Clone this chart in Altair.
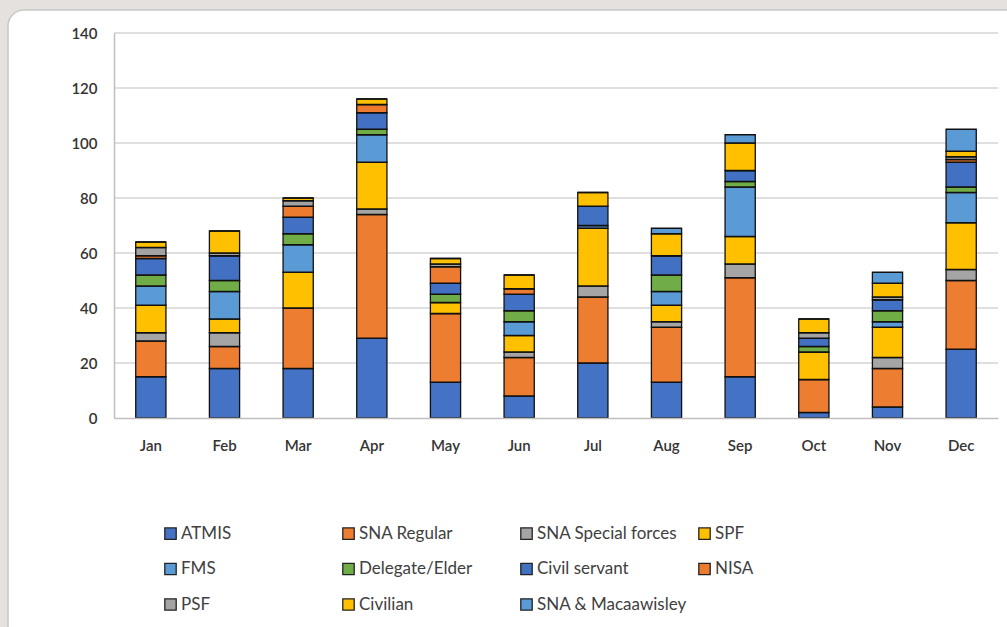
import altair as alt
import pandas as pd

months = ["Jan", "Feb", "Mar", "Apr", "May", "Jun", "Jul", "Aug", "Sep", "Oct", "Nov", "Dec"]
series = ["ATMIS", "SNA Regular", "SNA Special forces", "SPF", "FMS", "Delegate/Elder",
          "Civil servant", "NISA", "PSF", "Civilian", "SNA & Macaawisley"]
colors = ["#4472C4", "#ED7D31", "#A5A5A5", "#FFC000", "#5B9BD5", "#70AD47",
          "#4270C2", "#EC7B30", "#A3A3A3", "#FFC000", "#5B9BD5"]

# values per month, in series order (bottom to top)
jan = [15, 13, 3, 10, 7, 4, 6, 1, 3, 2, 0]
feb = [18, 8, 5, 5, 10, 4, 9, 0, 1, 8, 0]
mar = [18, 22, 0, 13, 10, 4, 6, 4, 2, 1, 0]
apr = [29, 45, 2, 17, 10, 2, 6, 3, 0, 2, 0]
may = [13, 25, 0, 4, 0, 3, 4, 6, 1, 2, 0]
jun = [8, 14, 2, 6, 5, 4, 6, 2, 0, 5, 0]
jul = [20, 24, 4, 21, 1, 0, 7, 0, 0, 5, 0]
aug = [13, 20, 2, 6, 5, 6, 7, 0, 0, 8, 2]
sep = [15, 36, 5, 10, 18, 2, 4, 0, 0, 10, 3]
oct_ = [2, 12, 0, 10, 0, 2, 3, 0, 2, 5, 0]
nov = [4, 14, 4, 11, 2, 4, 4, 0, 1, 5, 4]
dec = [25, 25, 4, 17, 11, 2, 9, 1, 1, 2, 8]
all_vals = [jan, feb, mar, apr, may, jun, jul, aug, sep, oct_, nov, dec]

y_ticks = [0, 20, 40, 60, 80, 100, 120, 140]

rows = []
for m, vals in zip(months, all_vals):
    for i, (s, v) in enumerate(zip(series, vals)):
        rows.append({"month": m, "series": s, "value": v, "idx": i})
df = pd.DataFrame(rows)

FONT = "Lato"
W, H = 884, 385

yscale = alt.Scale(domain=[0, 140])

panel = alt.Chart(pd.DataFrame({"a": [0]})).mark_rect(
    color="white", stroke="#C8C8C8", strokeWidth=1.5, cornerRadius=16
).encode(
    x=alt.value(-106), x2=alt.value(1000), y=alt.value(-23), y2=alt.value(700)
)

grid = alt.Chart(pd.DataFrame({"v": y_ticks[1:]})).mark_rule(
    color="#D4D4D4", strokeWidth=1.5
).encode(y=alt.Y("v:Q", scale=yscale))

bars = alt.Chart(df).mark_bar(stroke="#111111", strokeWidth=1.3).encode(
    x=alt.X("month:N", sort=months, title=None,
            scale=alt.Scale(paddingInner=0.59, paddingOuter=0.295),
            axis=alt.Axis(labelAngle=0, ticks=False, domainColor="#BFBFBF",
                          domainWidth=1.5, labelPadding=20, labelFontSize=15,
                          labelColor="#333333", labelFont=FONT, labelFontWeight=600,
                          zindex=1)),
    y=alt.Y("value:Q", stack="zero", title=None, scale=yscale,
            axis=alt.Axis(values=y_ticks, grid=False, ticks=False, domainColor="#BFBFBF",
                          domainWidth=1.5, labelPadding=17, labelFontSize=15,
                          labelColor="#333333", labelFont=FONT, labelFontWeight=600,
                          zindex=1)),
    color=alt.Color("series:N", sort=series,
                    scale=alt.Scale(domain=series, range=colors),
                    legend=alt.Legend(title=None, orient="none", legendX=48, legendY=492,
                                      direction="horizontal",
                                      columns=4, gridAlign="all", columnPadding=9,
                                      rowPadding=17.5, symbolType="square", symbolSize=130,
                                      symbolStrokeColor="#222222", symbolStrokeWidth=1.3,
                                      labelFont=FONT, labelFontSize=17, labelColor="#404040",
                                      labelOffset=2, padding=0, labelLimit=300)),
    order=alt.Order("idx:Q", sort="ascending"),
)

chart = alt.layer(panel, grid, bars).properties(
    width=W, height=H,
    background="#E4E1DE",
    padding={"left": 114, "top": 33, "right": 9, "bottom": 209},
    autosize=alt.AutoSizeParams(type="none"),
).configure_view(stroke=None)

chart.save("out.html", embed_options={"renderer": "svg", "actions": False})
